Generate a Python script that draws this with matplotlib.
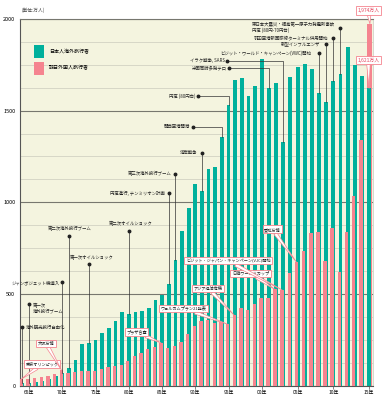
import numpy as np
import matplotlib
matplotlib.use('Agg')
import matplotlib.pyplot as plt

plt.rcParams['font.family'] = ['Noto Sans CJK JP', 'DejaVu Sans']

# 単位: 万人
years = np.arange(1964, 2016)
japanese = [12.8, 15.9, 21.2, 26.8, 34.4, 49.3, 66.3, 96.1, 139.2, 228.9,
            233.6, 246.6, 285.3, 315.1, 352.6, 403.8, 390.9, 400.7, 408.6, 423.3,
            465.9, 494.8, 551.6, 682.9, 842.7, 966.3, 1099.7, 1063.4, 1179.1, 1193.4,
            1357.9, 1529.8, 1669.5, 1680.3, 1580.6, 1635.8, 1781.9, 1621.6, 1652.3, 1329.6,
            1683.1, 1740.4, 1753.5, 1729.5, 1598.7, 1544.6, 1663.7, 1699.4, 1849.1, 1747.3,
            1690.3, 1621.2]
foreign = [35.3, 36.7, 43.3, 47.7, 51.9, 60.9, 85.4, 66.0, 72.4, 78.5,
           76.4, 81.2, 91.5, 102.8, 103.9, 111.3, 131.7, 158.3, 179.3, 196.8,
           211.0, 232.7, 206.2, 215.6, 235.5, 283.5, 323.6, 353.3, 358.2, 341.0,
           346.8, 334.5, 383.7, 421.8, 410.6, 443.8, 475.7, 477.2, 523.9, 521.2,
           613.8, 672.8, 733.4, 834.7, 835.1, 679.0, 861.1, 621.9, 835.8, 1036.4,
           1341.3, 1973.7]

tick_years = [1965, 1970, 1975, 1980, 1985, 1990, 1995, 2000, 2005, 2010, 2015]
tick_labels = ['65年', '70年', '75年', '80年', '85年', '90年', '95年', '00年', '05年', '10年', '15年']

# 日本人出国者の出来事
jp_labels = ['海外観光旅行自由化', '第一次\n海外旅行ブーム', 'ジャンボジェット機導入', '第二次海外旅行ブーム',
             '第一次オイルショック', '第二次オイルショック', '円高進行, テンミリオン計画', '第三次海外旅行ブーム',
             '湾岸戦争', '関西空港開港', '円高 (80円台)', '米国同時多発テロ', 'イラク戦争, SARS',
             'ビジット・ワールド・キャンペーン(VWC)開始', '新型インフルエンザ', '羽田空港新国際線ターミナル供用開始',
             '東日本大震災・福島第一原子力発電所事故\n円高 (80円-70円台)']
jp_years = [1964, 1965, 1970, 1971, 1974, 1980, 1986, 1987, 1991, 1994, 1995, 2001, 2003,
            2008, 2009, 2010, 2011]

# 訪日外国人の出来事
fg_labels = ['東京オリンピック', '大阪万博', 'プラザ合意', 'ウェルカムプラン21発表', 'アジア経済危機',
             '日韓ワールドカップ', 'ビジット・ジャパン・キャンペーン(VJC)開始', '愛知万博']
fg_years = [1964, 1970, 1985, 1995, 1996, 2002, 2003, 2005]

teal = '#00b09c'
pink = '#f5848f'
red_txt = '#e5455d'
cream = '#f4f4df'

# the original chart is a bit wider per year after 2000
S1, S2 = 6.65, 7.15
def fwd(x):
    x = np.asarray(x, float)
    return np.where(x <= 2000, (x - 1964) * S1, 36 * S1 + (x - 2000) * S2)
def inv(u):
    u = np.asarray(u, float)
    return np.where(u <= 36 * S1, 1964 + u / S1, 2000 + (u - 36 * S1) / S2)

fig = plt.figure(figsize=(3.9, 3.99), dpi=100)
ax = fig.add_axes([19.5/390, 13.5/399, 353.5/390, 366.5/399])
ax.set_xscale('function', functions=(fwd, inv))
ax.set_facecolor(cream)
ax.set_axisbelow(True)

ax.bar(years, japanese, width=0.55, color=teal, zorder=2, label='日本人海外旅行者')
n = len(years)
pw = np.full(n, 0.5)
poff = np.full(n, -0.15)
pw[-1], poff[-1] = 0.72, 0.12
pbars = ax.bar(years + poff, foreign, width=pw, color=pink, zorder=3, label='訪日外国人旅行者')
pbars[-1].set_zorder(1)

ax.set_xlim(1963.56, 2015.55)
ax.set_ylim(0, 2000)
ax.set_yticks([0, 500, 1000, 1500, 2000])
ax.set_yticklabels(['0', '500', '1000', '1500', '2000'], fontsize=4)
ax.set_yticks(np.arange(0, 2001, 125), minor=True)
ax.grid(axis='y', which='minor', color='#cbcbbd', lw=0.5)
ax.grid(axis='y', which='major', color='#77776f', lw=0.8)
ax.tick_params(axis='y', which='both', length=0, pad=3)
ax.set_xticks(tick_years)
ax.set_xticklabels(tick_labels, fontsize=3.5)
ax.tick_params(axis='x', length=2, width=0.5, pad=1.2, color='#555')
ax.xaxis.set_minor_locator(plt.NullLocator())
for s in ['left', 'bottom']:
    ax.spines[s].set_color('#555')
    ax.spines[s].set_linewidth(0.8)
ax.spines['top'].set_color('#77776f')
ax.spines['top'].set_linewidth(0.8)
ax.spines['right'].set_color('#c8c8bb')
ax.spines['right'].set_linewidth(0.5)

ax.text(1963.9, 2050, '(単位:万人)', fontsize=3.4, color='#444', va='center')

ax.legend(loc='upper left', bbox_to_anchor=(0.041, 0.928), frameon=False, fontsize=3.6,
          handlelength=2.0, handleheight=3.6, labelspacing=0.7, handletextpad=1.0,
          borderpad=0, borderaxespad=0)

# (text x, text y, ha, dot x or None, dot y)
jp_pos = [(1964.55, 319, 'left', None, 319),
          (1965.5, 423, 'left', None, 444),
          (1969.6, 563, 'right', None, 563),
          (1971.08, 854, 'center', None, 818),
          (1971.16, 701, 'left', None, 663),
          (1980.3, 887, 'center', None, 845),
          (1985.4, 1050, 'right', None, 1050),
          (1986.45, 1153, 'right', None, 1153),
          (1990.35, 1269, 'right', None, 1269),
          (1989.2, 1411, 'right', 1989.65, 1411),
          (1990.0, 1580, 'right', 1990.4, 1580),
          (1994.7, 1734, 'right', 1995.05, 1734),
          (1994.4, 1772, 'right', 1994.75, 1772),
          (2006.93, 1815, 'right', None, 1815),
          (2008.14, 1864, 'right', None, 1864),
          (2009.33, 1896, 'right', None, 1896),
          (2010.22, 1957, 'right', None, 1950)]

jp_val = dict(zip(years, japanese))
fg_val = dict(zip(years, foreign))

for lab, yr, (tx, ty, ha, dx, dy) in zip(jp_labels, jp_years, jp_pos):
    top = jp_val[yr]
    if dx is None:
        xs, ys = [yr, yr], [dy, top]
        dx = yr
    else:
        xs, ys = [dx, yr, yr], [dy, dy, top]
    ax.plot(xs, ys, color='#333', lw=0.5, zorder=5, clip_on=False)
    ax.plot(dx, dy, 'o', color='#222', ms=1.8, zorder=6, clip_on=False)
    ax.text(tx, ty, lab, fontsize=3.2, ha=ha, va='center', color='#222', zorder=6,
            multialignment='left', linespacing=1.2)

fg_pos = [(1967.0, 117), (1967.52, 230), (1981.16, 292), (1988.27, 421), (1991.95, 530),
          (1998.3, 612), (1994.92, 681), (2001.47, 852)]

box = dict(boxstyle='square,pad=0.35', fc='white', ec=pink, lw=0.6)
arrow = dict(arrowstyle='wedge,tail_width=0.5', mutation_scale=5, fc='white', ec=pink,
             lw=0.5, shrinkA=0, shrinkB=0)
for lab, yr, (tx, ty) in zip(fg_labels, fg_years, fg_pos):
    ax.annotate(lab, xy=(yr - 0.15, fg_val[yr]), xytext=(tx, ty), fontsize=3.0, color='#222',
                ha='center', va='center', bbox=box, arrowprops=arrow, zorder=7)

# 2015 values
ax.annotate('1,974万人', xy=(2015.12, foreign[-1]), xytext=(2014.95, 2045), fontsize=3.5,
            color=red_txt, ha='center', va='center', bbox=box, arrowprops=arrow,
            annotation_clip=False, zorder=8)
ax.annotate('1,621万人', xy=(2015, japanese[-1]), xytext=(2014.9, 1776), fontsize=3.5,
            color=red_txt, ha='center', va='center', bbox=box, arrowprops=arrow,
            annotation_clip=False, zorder=8)

fig.savefig('out.png', dpi=100)
